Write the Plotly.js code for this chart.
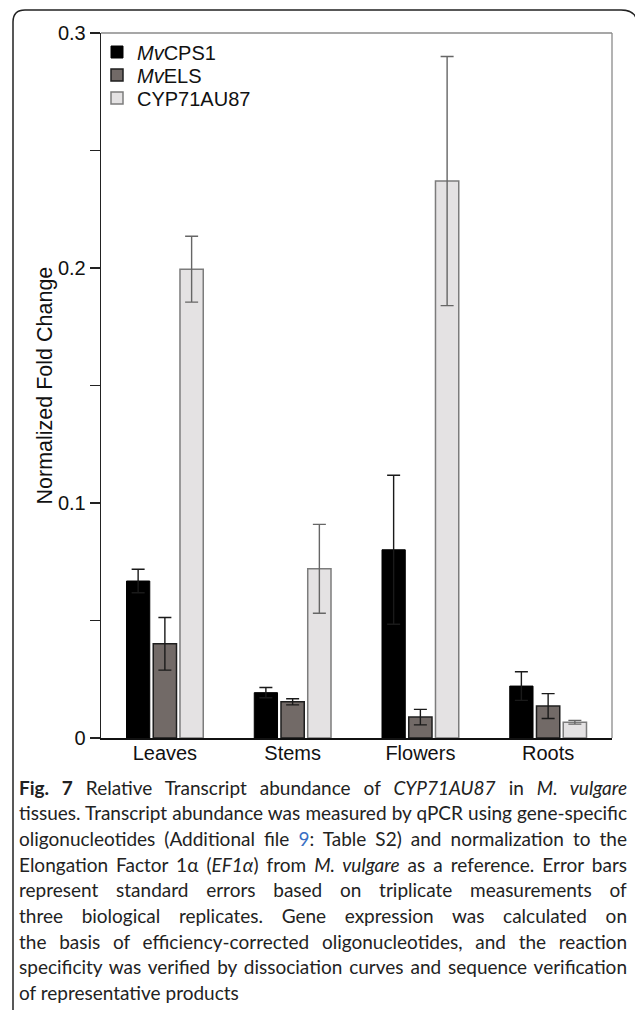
<!DOCTYPE html>
<html>
<head>
<meta charset="utf-8">
<script src="https://cdn.plot.ly/plotly-3.0.1.min.js"></script>
<style>
html,body{margin:0;padding:0;background:#fff;}
#chart{width:635px;height:1016px;}
</style>
</head>
<body>
<div id="chart"></div>
<script>
// ---- data ----
var categories = ["Leaves", "Stems", "Flowers", "Roots"];
var seriesNames = ["<i>Mv</i>CPS1", "<i>Mv</i>ELS", "CYP71AU87"];
var cps1 = [0.0668, 0.0193, 0.0801, 0.0221];
var cps1Err = [0.0050, 0.0022, 0.0317, 0.0061];
var els = [0.0401, 0.0154, 0.0089, 0.0136];
var elsErr = [0.0112, 0.0013, 0.0033, 0.0053];
var cyp = [0.1995, 0.0720, 0.2370, 0.0067];
var cypErr = [0.0140, 0.0189, 0.0530, 0.0008];
var yTickVals = [0, 0.05, 0.1, 0.15, 0.2, 0.25, 0.3];
var yTickText = ["0", "", "0.1", "", "0.2", "", "0.3"];
var yTitle = "Normalized Fold Change";
var captionLines = [
  "<b>Fig. 7</b> Relative Transcript abundance of <i>CYP71AU87</i> in <i>M. vulgare</i>",
  "tissues. Transcript abundance was measured by qPCR using gene-specific",
  "oligonucleotides (Additional file <span style=\"color:#3a6fc4\">9</span>: Table S2) and normalization to the",
  "Elongation Factor 1α (<i>EF1α</i>) from <i>M. vulgare</i> as a reference. Error bars",
  "represent standard errors based on triplicate measurements of",
  "three biological replicates. Gene expression was calculated on",
  "the basis of efficiency-corrected oligonucleotides, and the reaction",
  "specificity was verified by dissociation curves and sequence verification",
  "of representative products"
];

// ---- layout geometry (pixels) ----
var W = 635, H = 1016;
var L = 101, R = 612, T = 33, B = 738;
var CAP_L = 17, CAP_R = 625;
function X(px){ return (px - L) / (R - L); }
function Y(py){ return (B - py) / (B - T); }

var axisFont = {family: "Liberation Sans, Arial, sans-serif", size: 20, color: "#111"};
var legendFont = {family: "Liberation Sans, Arial, sans-serif", size: 20, color: "#111"};
var legendKeys = ["legend", "legend2", "legend3"];
var legendRowsPx = [52, 75, 98];

function barTrace(k, vals, errs, fill, lineCol, lineW, errCol){
  return {
    type: "bar", name: seriesNames[k], x: categories, y: vals, legend: legendKeys[k],
    marker: {color: fill, line: {color: lineCol, width: lineW}},
    error_y: {type: "data", array: errs, visible: true, color: errCol, thickness: 1.4, width: 6.5}
  };
}

var data = [
  barTrace(0, cps1, cps1Err, "#000000", "#000000", 1, "#1a1a1a"),
  barTrace(1, els, elsErr, "#726a67", "#1e1e1e", 1.5, "#1a1a1a"),
  barTrace(2, cyp, cypErr, "#e4e2e3", "#7c7c7c", 1.5, "#666666")
];

var annotations = [{
  text: yTitle, textangle: -90, showarrow: false,
  xref: "paper", yref: "paper", x: X(44), y: 0.5,
  xanchor: "center", yanchor: "middle",
  font: {family: "Liberation Sans, Arial, sans-serif", size: 21.5, color: "#111"}
}];
captionLines.forEach(function(t, i){
  annotations.push({
    text: t, showarrow: false, xref: "paper", yref: "paper",
    x: X(CAP_L), y: Y(787 + i * 25.7), xanchor: "left", yanchor: "middle", align: "left",
    font: {family: "Lato, sans-serif", size: 19, color: "#222"}
  });
});

var framePath = "M " + X(13) + "," + Y(1010) +
  " L " + X(13) + "," + Y(22) +
  " Q " + X(13) + "," + Y(10) + " " + X(25) + "," + Y(10) +
  " L " + X(621) + "," + Y(10) +
  " Q " + X(633) + "," + Y(10) + " " + X(636) + "," + Y(18);

var layout = {
  width: W, height: H,
  margin: {l: L, r: W - R, t: T, b: H - B, pad: 0},
  paper_bgcolor: "#ffffff", plot_bgcolor: "#ffffff",
  barmode: "group", bargap: 0.372, bargroupgap: 0.13,
  showlegend: true,
  xaxis: {
    showline: true, linecolor: "#111", linewidth: 1.5, ticks: "", showgrid: false, zeroline: false,
    tickfont: axisFont, range: [-0.5, 3.5], fixedrange: true, ticklabelstandoff: -4
  },
  yaxis: {
    range: [0, 0.3], tickvals: yTickVals, ticktext: yTickText,
    showline: true, linecolor: "#222", linewidth: 1.3, ticks: "outside", ticklen: 10, tickwidth: 1.3, tickcolor: "#222",
    showgrid: false, zeroline: false, tickfont: axisFont, fixedrange: true
  },
  annotations: annotations,
  shapes: [
    {type: "line", xref: "paper", yref: "paper", x0: 0, y0: 1, x1: 1, y1: 1, line: {color: "#8a8a8a", width: 1.3}},
    {type: "line", xref: "paper", yref: "paper", x0: 1, y0: 0, x1: 1, y1: 1, line: {color: "#8a8a8a", width: 1.3}},
    {type: "path", xref: "paper", yref: "paper", path: framePath, line: {color: "#222", width: 1.5}}
  ]
};
legendKeys.forEach(function(key, k){
  layout[key] = {x: X(97), y: Y(legendRowsPx[k]), xanchor: "left", yanchor: "middle",
                 bgcolor: "rgba(0,0,0,0)", font: legendFont, itemwidth: 30, borderwidth: 0};
});

Plotly.newPlot("chart", data, layout, {displayModeBar: false, staticPlot: true}).then(function(gd){
  // justify caption lines (all but the last) to the caption width via word-spacing
  var groups = gd.querySelectorAll(".annotation");
  groups.forEach(function(g, k){
    if (k === 0) return; // axis title
    var i = k - 1;
    if (i >= captionLines.length - 1) return;
    var t = g.querySelector("text.annotation-text");
    if (!t) return;
    var before = t.getBBox();
    var spaces = (t.textContent.match(/ /g) || []).length;
    if (!spaces) return;
    var extra = (CAP_R - CAP_L) - before.width;
    if (extra <= 0) return;
    t.style.wordSpacing = (extra / spaces) + "px";
    var after = t.getBBox();
    var dx = before.x - after.x;
    if (Math.abs(dx) > 0.1) t.setAttribute("transform", "translate(" + dx + ",0)");
  });
});
</script>
</body>
</html>
